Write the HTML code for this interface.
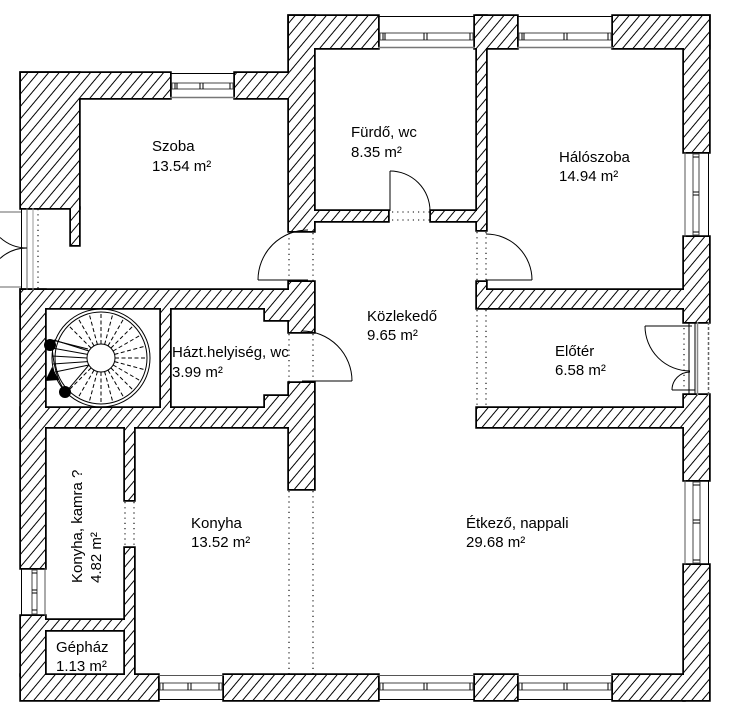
<!DOCTYPE html>
<html><head><meta charset="utf-8"><style>
html,body{margin:0;padding:0;background:#fff;}
svg{display:block;}
text{font-family:"Liberation Sans",Arial,sans-serif;font-size:15px;fill:#000;}
</style></head><body>
<svg width="737" height="719" viewBox="0 0 737 719" xmlns="http://www.w3.org/2000/svg">
<defs>
<pattern id="h" patternUnits="userSpaceOnUse" width="8" height="8" patternTransform="rotate(40)">
<rect width="8" height="8" fill="#fff"/>
<line x1="4" y1="-1" x2="4" y2="9" stroke="#000" stroke-width="1"/>
</pattern>
</defs>
<rect width="737" height="719" fill="#fff"/>

<!-- wall outlines (union trick) -->
<g fill="#000" stroke="#000" stroke-width="3.5">
<rect x="21" y="73" width="149" height="25"/>
<rect x="235" y="73" width="54" height="25"/>
<rect x="21" y="73" width="58" height="135"/>
<rect x="71" y="208" width="8" height="37"/>
<rect x="289" y="16" width="89" height="32"/>
<rect x="289" y="16" width="25" height="215"/>
<rect x="314" y="211" width="74" height="10"/>
<rect x="431" y="211" width="46" height="10"/>
<rect x="475" y="16" width="42" height="32"/>
<rect x="477" y="16" width="9" height="214"/>
<rect x="613" y="16" width="96" height="32"/>
<rect x="684" y="16" width="25" height="136"/>
<rect x="684" y="237" width="25" height="85"/>
<rect x="477" y="282" width="9" height="26"/>
<rect x="486" y="290" width="198" height="18"/>
<rect x="477" y="408" width="207" height="19"/>
<rect x="684" y="395" width="25" height="85"/>
<rect x="684" y="565" width="25" height="135"/>
<rect x="613" y="675" width="71" height="25"/>
<rect x="475" y="675" width="42" height="25"/>
<rect x="224" y="675" width="154" height="25"/>
<rect x="21" y="675" width="137" height="25"/>
<rect x="21" y="616" width="24" height="59"/>
<rect x="21" y="290" width="24" height="278"/>
<rect x="21" y="290" width="268" height="18"/>
<rect x="161" y="308" width="9" height="100"/>
<rect x="265" y="308" width="24" height="12"/>
<rect x="265" y="396" width="24" height="12"/>
<rect x="21" y="408" width="268" height="19"/>
<rect x="289" y="282" width="25" height="50"/>
<rect x="289" y="383" width="25" height="106"/>
<rect x="125" y="427" width="9" height="73"/>
<rect x="125" y="548" width="9" height="127"/>
<rect x="45" y="620" width="80" height="10"/>
</g>
<g fill="url(#h)">
<rect x="21" y="73" width="149" height="25"/>
<rect x="235" y="73" width="54" height="25"/>
<rect x="21" y="73" width="58" height="135"/>
<rect x="71" y="208" width="8" height="37"/>
<rect x="289" y="16" width="89" height="32"/>
<rect x="289" y="16" width="25" height="215"/>
<rect x="314" y="211" width="74" height="10"/>
<rect x="431" y="211" width="46" height="10"/>
<rect x="475" y="16" width="42" height="32"/>
<rect x="477" y="16" width="9" height="214"/>
<rect x="613" y="16" width="96" height="32"/>
<rect x="684" y="16" width="25" height="136"/>
<rect x="684" y="237" width="25" height="85"/>
<rect x="477" y="282" width="9" height="26"/>
<rect x="486" y="290" width="198" height="18"/>
<rect x="477" y="408" width="207" height="19"/>
<rect x="684" y="395" width="25" height="85"/>
<rect x="684" y="565" width="25" height="135"/>
<rect x="613" y="675" width="71" height="25"/>
<rect x="475" y="675" width="42" height="25"/>
<rect x="224" y="675" width="154" height="25"/>
<rect x="21" y="675" width="137" height="25"/>
<rect x="21" y="616" width="24" height="59"/>
<rect x="21" y="290" width="24" height="278"/>
<rect x="21" y="290" width="268" height="18"/>
<rect x="161" y="308" width="9" height="100"/>
<rect x="265" y="308" width="24" height="12"/>
<rect x="265" y="396" width="24" height="12"/>
<rect x="21" y="408" width="268" height="19"/>
<rect x="289" y="282" width="25" height="50"/>
<rect x="289" y="383" width="25" height="106"/>
<rect x="125" y="427" width="9" height="73"/>
<rect x="125" y="548" width="9" height="127"/>
<rect x="45" y="620" width="80" height="10"/>
</g>

<!-- horizontal windows -->
<g fill="none" stroke="#000" stroke-width="1">
<!-- Szoba top -->
<line x1="170" y1="73.5" x2="235" y2="73.5"/>
<line x1="170" y1="97.5" x2="235" y2="97.5" stroke="#777" stroke-width="1.5"/>
<rect x="172" y="83" width="61" height="6" stroke="#444"/>
<line x1="175" y1="83" x2="175" y2="89"/><line x1="177" y1="83" x2="177" y2="89"/>
<line x1="200" y1="83" x2="200" y2="89"/><line x1="203" y1="83" x2="203" y2="89"/>
<line x1="230" y1="83" x2="230" y2="89"/>
<!-- Fürdő top -->
<line x1="378" y1="16.5" x2="475" y2="16.5"/>
<line x1="378" y1="47.5" x2="475" y2="47.5" stroke="#777" stroke-width="1.5"/>
<rect x="380" y="33" width="93" height="7" stroke="#444"/>
<line x1="383" y1="33" x2="383" y2="40"/><line x1="385" y1="33" x2="385" y2="40"/>
<line x1="424" y1="33" x2="424" y2="40"/><line x1="427" y1="33" x2="427" y2="40"/>
<line x1="470" y1="33" x2="470" y2="40"/>
<!-- Hálószoba top -->
<line x1="517" y1="16.5" x2="613" y2="16.5"/>
<line x1="517" y1="47.5" x2="613" y2="47.5" stroke="#777" stroke-width="1.5"/>
<rect x="519" y="33" width="92" height="7" stroke="#444"/>
<line x1="522" y1="33" x2="522" y2="40"/><line x1="524" y1="33" x2="524" y2="40"/>
<line x1="564" y1="33" x2="564" y2="40"/><line x1="567" y1="33" x2="567" y2="40"/>
<line x1="608" y1="33" x2="608" y2="40"/>
<!-- bottom windows -->
<line x1="158" y1="675.5" x2="224" y2="675.5" stroke="#555"/>
<line x1="158" y1="699.5" x2="224" y2="699.5"/>
<rect x="160" y="683" width="62" height="7" stroke="#444"/>
<line x1="163" y1="683" x2="163" y2="690"/><line x1="188" y1="683" x2="188" y2="690"/><line x1="191" y1="683" x2="191" y2="690"/><line x1="219" y1="683" x2="219" y2="690"/>
<line x1="378" y1="675.5" x2="475" y2="675.5" stroke="#555"/>
<line x1="378" y1="699.5" x2="475" y2="699.5"/>
<rect x="380" y="683" width="93" height="7" stroke="#444"/>
<line x1="383" y1="683" x2="383" y2="690"/><line x1="424" y1="683" x2="424" y2="690"/><line x1="427" y1="683" x2="427" y2="690"/><line x1="470" y1="683" x2="470" y2="690"/>
<line x1="517" y1="675.5" x2="613" y2="675.5" stroke="#555"/>
<line x1="517" y1="699.5" x2="613" y2="699.5"/>
<rect x="519" y="683" width="92" height="7" stroke="#444"/>
<line x1="522" y1="683" x2="522" y2="690"/><line x1="564" y1="683" x2="564" y2="690"/><line x1="567" y1="683" x2="567" y2="690"/><line x1="608" y1="683" x2="608" y2="690"/>
</g>

<!-- vertical windows -->
<g fill="none" stroke="#000" stroke-width="1">
<line x1="685" y1="152" x2="685" y2="237" stroke="#555"/>
<line x1="708.5" y1="152" x2="708.5" y2="237"/>
<rect x="693" y="154" width="6" height="81" stroke="#444"/>
<line x1="693" y1="157" x2="699" y2="157"/><line x1="693" y1="192" x2="699" y2="192"/><line x1="693" y1="195" x2="699" y2="195"/><line x1="693" y1="232" x2="699" y2="232"/>
<line x1="685" y1="480" x2="685" y2="565" stroke="#555"/>
<line x1="708.5" y1="480" x2="708.5" y2="565"/>
<rect x="693" y="482" width="7" height="81" stroke="#444"/>
<line x1="693" y1="485" x2="700" y2="485"/><line x1="693" y1="520" x2="700" y2="520"/><line x1="693" y1="523" x2="700" y2="523"/><line x1="693" y1="560" x2="700" y2="560"/>
<line x1="21.5" y1="568" x2="21.5" y2="616"/>
<line x1="45" y1="568" x2="45" y2="616" stroke="#555"/>
<rect x="32" y="570" width="5" height="44" stroke="#444"/>
<line x1="32" y1="573" x2="37" y2="573"/><line x1="32" y1="590" x2="37" y2="590"/><line x1="32" y1="593" x2="37" y2="593"/><line x1="32" y1="610" x2="37" y2="610"/>
</g>

<!-- doors -->
<g fill="none" stroke="#000" stroke-width="1">
<!-- left exterior double door -->
<line x1="21.5" y1="208" x2="21.5" y2="290"/>
<line x1="27" y1="208" x2="27" y2="290" stroke="#666"/>
<line x1="33" y1="208" x2="33" y2="290" stroke="#999"/>
<line x1="0" y1="212" x2="21" y2="212" stroke="#666"/>
<line x1="0" y1="287" x2="21" y2="287" stroke="#666"/>
<path d="M27,248 A40,40 0 0 1 0,237.5"/>
<path d="M27,248 A40,40 0 0 0 0,258.5"/>
<!-- Szoba door -->
<line x1="258" y1="280" x2="308" y2="280"/>
<path d="M258,280 A50,50 0 0 1 308,230"/>
<!-- Fürdő door -->
<line x1="390" y1="171" x2="390" y2="211"/>
<path d="M390,171 A40,40 0 0 1 430,211"/>
<!-- Hálószoba door -->
<line x1="486" y1="280" x2="532" y2="280"/>
<path d="M486,234 A46,46 0 0 1 532,280"/>
<!-- Házt door -->
<line x1="302" y1="381" x2="352" y2="381"/>
<path d="M302,331 A50,50 0 0 1 352,381"/>
<!-- Előtér door -->
<line x1="645" y1="326" x2="692" y2="326"/>
<path d="M645,326 A45,45 0 0 0 690,371"/>
<path d="M690,372 A18,18 0 0 0 672,390"/>
<line x1="672" y1="390" x2="695" y2="390"/>
<line x1="689" y1="322" x2="689" y2="395"/>
<line x1="695" y1="322" x2="695" y2="395"/>
<line x1="697.5" y1="322" x2="697.5" y2="395" stroke="#888" stroke-width="1.5"/>
<line x1="708.5" y1="322" x2="708.5" y2="395" stroke="#666" stroke-width="1.5" stroke-dasharray="3 2"/>
</g>

<!-- dotted lines -->
<g stroke="#000" stroke-width="1.1" stroke-dasharray="1.2 4">
<line x1="38" y1="209" x2="38" y2="290"/>
<line x1="289" y1="233" x2="289" y2="282"/><line x1="313" y1="233" x2="313" y2="282"/>
<line x1="289" y1="334" x2="289" y2="383"/><line x1="313" y1="334" x2="313" y2="383"/>
<line x1="289" y1="491" x2="289" y2="675"/><line x1="313" y1="491" x2="313" y2="675"/>
<line x1="392" y1="212" x2="431" y2="212"/><line x1="392" y1="220" x2="431" y2="220"/>
<line x1="477" y1="232" x2="477" y2="282"/><line x1="486" y1="232" x2="486" y2="282"/>
<line x1="477" y1="310" x2="477" y2="408"/><line x1="486" y1="310" x2="486" y2="408"/>
<line x1="125" y1="502" x2="125" y2="548"/><line x1="134" y1="502" x2="134" y2="548"/>
<line x1="684" y1="328" x2="684" y2="390"/>
</g>

<!-- stairs -->
<g fill="none" stroke="#000" stroke-width="1">
<circle cx="101" cy="358" r="49"/>
<circle cx="101" cy="358" r="46"/>
<circle cx="101" cy="358" r="14" fill="#fff"/>
<g stroke-dasharray="4 2.5">
<line x1="115" y1="358" x2="147" y2="358"/>
<line x1="114.5" y1="361.6" x2="145.4" y2="369.9"/>
<line x1="113.1" y1="365" x2="140.8" y2="381"/>
<line x1="110.9" y1="367.9" x2="133.5" y2="390.5"/>
<line x1="108" y1="370.1" x2="124" y2="397.8"/>
<line x1="104.6" y1="371.5" x2="112.9" y2="402.4"/>
<line x1="101" y1="372" x2="101" y2="404"/>
<line x1="97.4" y1="371.5" x2="89.1" y2="402.4"/>
<line x1="94" y1="370.1" x2="78" y2="397.8"/>
<line x1="91.1" y1="367.9" x2="68.5" y2="390.5"/>
<line x1="91.1" y1="348.1" x2="68.5" y2="325.5"/>
<line x1="94" y1="345.9" x2="78" y2="318.2"/>
<line x1="97.4" y1="344.5" x2="89.1" y2="313.6"/>
<line x1="101" y1="344" x2="101" y2="312"/>
<line x1="104.6" y1="344.5" x2="112.9" y2="313.6"/>
<line x1="108" y1="345.9" x2="124" y2="318.2"/>
<line x1="110.9" y1="348.1" x2="133.5" y2="325.5"/>
<line x1="113.1" y1="351" x2="140.8" y2="335"/>
<line x1="114.5" y1="354.4" x2="145.4" y2="346.1"/>
</g>
<line x1="88.9" y1="365" x2="55" y2="372"/>
<line x1="87.5" y1="361.6" x2="53" y2="364"/>
<line x1="87" y1="358" x2="52" y2="356"/>
<line x1="87.5" y1="354.4" x2="52" y2="348"/>
<line x1="88.9" y1="351" x2="54" y2="340"/>
<line x1="88.9" y1="365" x2="66" y2="392"/>
<line x1="52" y1="340" x2="88" y2="349"/>
<path d="M52,345 Q54,378 66,392"/>
</g>
<circle cx="50" cy="345" r="6" fill="#000"/>
<polygon points="52,367 59,380 45,381" fill="#000"/>
<circle cx="65" cy="392" r="6" fill="#000"/>

<!-- labels -->
<text x="152" y="151">Szoba</text>
<text x="152" y="171">13.54 m²</text>
<text x="351" y="137">Fürdő, wc</text>
<text x="351" y="157">8.35 m²</text>
<text x="559" y="162">Hálószoba</text>
<text x="559" y="181">14.94 m²</text>
<text x="367" y="321">Közlekedő</text>
<text x="367" y="340">9.65 m²</text>
<text x="172" y="357">Házt.helyiség, wc</text>
<text x="172" y="377">3.99 m²</text>
<text x="555" y="356">Előtér</text>
<text x="555" y="375">6.58 m²</text>
<text x="191" y="528">Konyha</text>
<text x="191" y="547">13.52 m²</text>
<text x="466" y="528">Étkező, nappali</text>
<text x="466" y="547">29.68 m²</text>
<text x="56" y="652">Gépház</text>
<text x="56" y="671">1.13 m²</text>
<g transform="translate(82,583) rotate(-90)">
<text x="0" y="0">Konyha, kamra ?</text>
<text x="0" y="19">4.82 m²</text>
</g>
</svg>
</body></html>
